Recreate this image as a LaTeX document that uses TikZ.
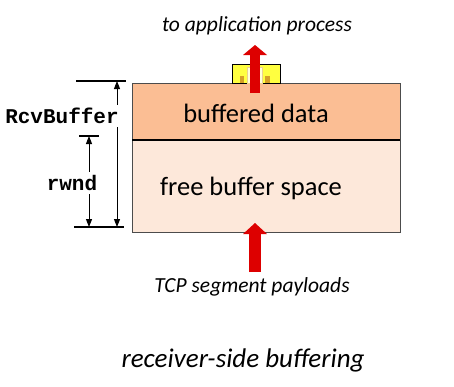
\documentclass[tikz,border=0pt]{standalone}
\usepackage{fontspec}
\setmainfont{Carlito}
\setmonofont{Liberation Mono}
\usetikzlibrary{arrows.meta}

\definecolor{bufdata}{RGB}{251,190,148}
\definecolor{freespace}{RGB}{253,232,218}
\definecolor{arrowred}{RGB}{221,0,0}
\definecolor{sockyellow}{RGB}{255,255,64}
\definecolor{sockgold}{RGB}{214,160,40}

\tikzset{
  bigtext/.style={font=\fontsize{26.5}{30}\selectfont},
  captext/.style={font=\fontsize{21.5}{25}\selectfont\itshape},
  codetext/.style={font=\fontsize{21}{25}\selectfont\ttfamily\bfseries},
  dimarrow/.style={-{Triangle[length=8pt,width=6pt]}, line width=1pt},
  tick/.style={line width=1.5pt},
  redarrow/.style={arrowred, line width=10pt, -{Triangle[length=10pt,width=24pt,line width=0pt]}},
  buffer/.style={draw=black!70, minimum width=268pt, anchor=north west, inner sep=0pt},
}

\begin{document}
\begin{tikzpicture}[x=1pt,y=-1pt]
\useasboundingbox (0,0) rectangle (454,386);
% Define the buffer
\node[buffer, fill=bufdata, minimum height=57pt] at (132,83) (buf) {};
\node[buffer, fill=freespace, minimum height=92pt] at (132,140) (free) {};
\draw[line width=2pt] (buf.south west) -- (buf.south east);
\node[bigtext] at (256,113) (buftext) {buffered data};
\node[bigtext] at (251,188) (freetext) {free buffer space};
% Define the socket
\node[draw, fill=sockyellow, minimum width=48pt, minimum height=19pt, anchor=south west, inner sep=0pt] at (232,83) (sock) {};
\node[draw=sockgold!50, fill=sockyellow!20, minimum width=15pt, minimum height=16pt, anchor=south west, inner sep=0pt] at (247,83) (slot) {};
\node[fill=sockgold, minimum width=4pt, minimum height=7pt, anchor=south west, inner sep=0pt] at (240,83) (sockl) {};
\node[fill=sockgold, minimum width=5pt, minimum height=7pt, anchor=south west, inner sep=0pt] at (265,83) (sockr) {};
% Draw the red arrows
\coordinate (appin) at (255,93);
\coordinate (appout) at (255,45);
\coordinate (segin) at (255,272);
\coordinate (segout) at (255,223);
\draw[redarrow] (appin) -- (appout);
\draw[redarrow, line width=12pt, -{Triangle[length=11pt,width=24pt,line width=0pt]}] (segin) -- (segout);
\node[captext] at (257,26) (app) {to application process};
\node[captext] at (252,287) (seg) {TCP segment payloads};
% Draw the sizes
\coordinate (rbtop) at (117,81);
\coordinate (rbbot) at (117,227);
\coordinate (rwtop) at (89,136);
\coordinate (rwbot) at (89,227);
\draw[tick] (76,81) -- (126,81);
\draw[tick] (79,136) -- (99,136);
\draw[tick] (74,227) -- (124,227);
\node[codetext] at (62,116) (rcv) {RcvBuffer};
\node[codetext] at (72,183) (rw) {rwnd};
\draw[dimarrow] (rcv.north -| rbtop) -- (rbtop);
\draw[dimarrow] (rcv.south -| rbbot) -- (rbbot);
\draw[dimarrow] (rw.north -| rwtop) -- (rwtop);
\draw[dimarrow] (rw.south -| rwbot) -- (rwbot);
\node[font=\fontsize{27}{31}\selectfont\itshape] at (243,360) (title) {receiver-side buffering};
\end{tikzpicture}
\end{document}
